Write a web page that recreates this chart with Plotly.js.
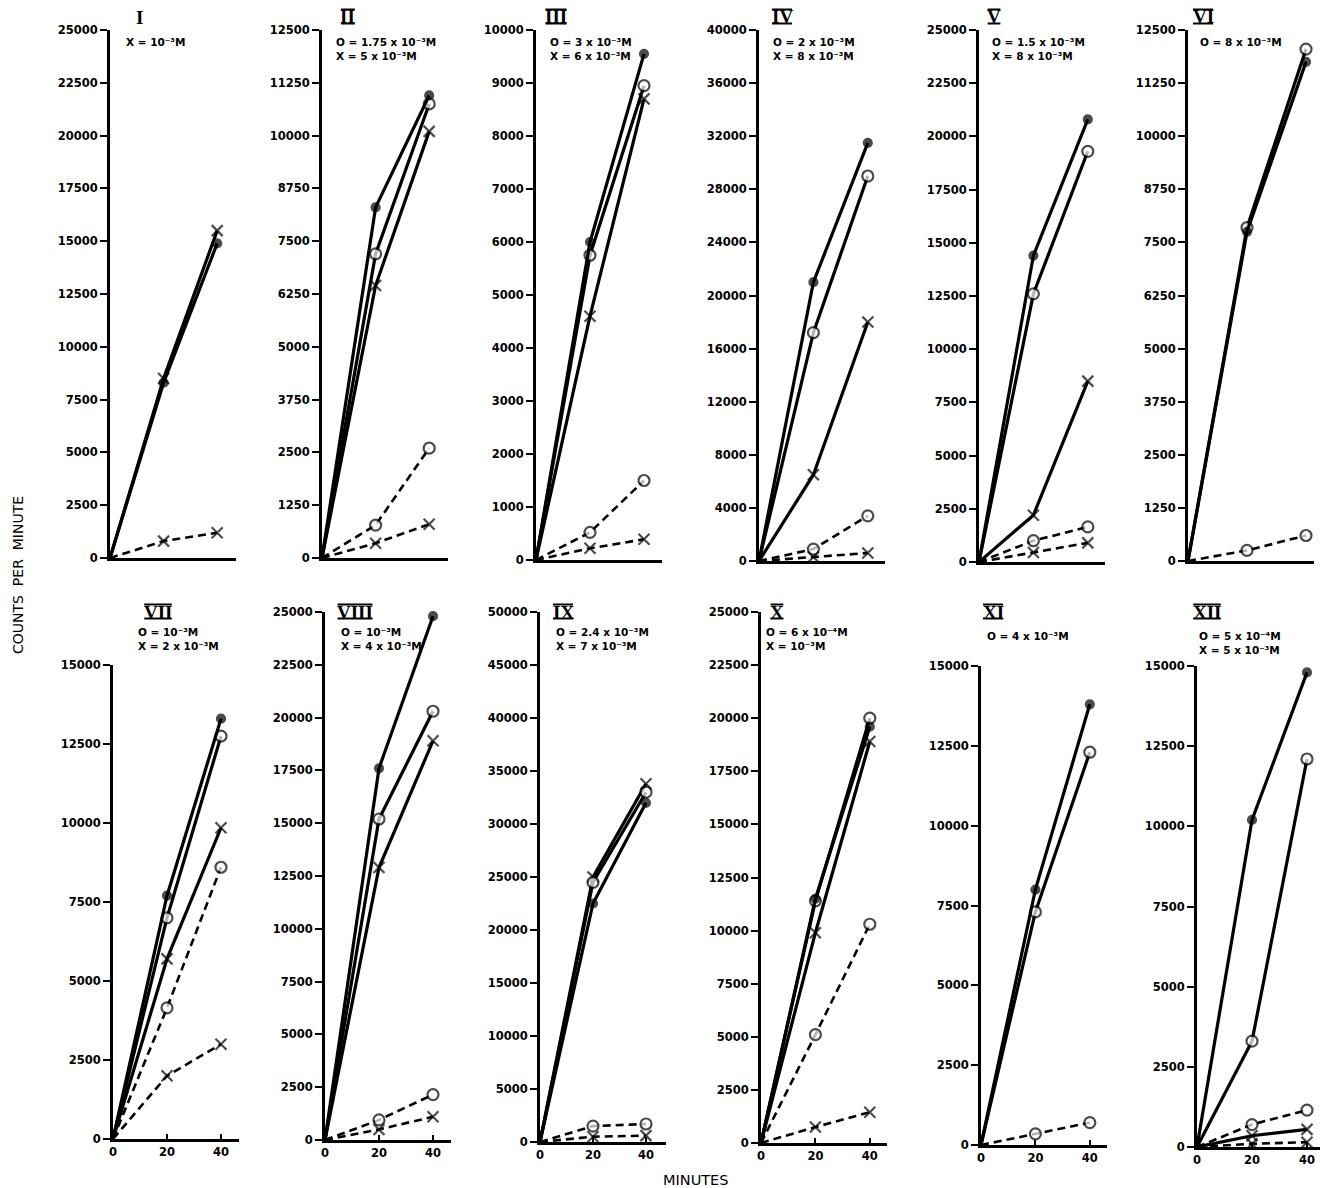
<!DOCTYPE html>
<html><head><meta charset="utf-8">
<script src="https://cdn.plot.ly/plotly-3.0.1.min.js"></script>
<style>html,body{margin:0;padding:0;background:#fff}#chart{width:1320px;height:1188px}</style>
</head><body><div id="chart"></div>
<script>
// ---------------- DATA ----------------
const minutes = [0, 20, 40];
const panelLabels = ['I','II','III','IV','V','VI','VII','VIII','IX','X','XI','XII'];
const yMax  = [25000, 12500, 10000, 40000, 25000, 12500, 15000, 25000, 50000, 25000, 15000, 15000];
const yStep = [2500, 1250, 1000, 4000, 2500, 1250, 2500, 2500, 5000, 2500, 2500, 2500];
const legendLine1 = ['X = 10⁻³M', 'O = 1.75 x 10⁻³M', 'O = 3 x 10⁻³M', 'O = 2 x 10⁻³M',
  'O = 1.5 x 10⁻³M', 'O = 8 x 10⁻³M', 'O = 10⁻³M', 'O = 10⁻³M',
  'O = 2.4 x 10⁻³M', 'O = 6 x 10⁻⁴M', 'O = 4 x 10⁻³M', 'O = 5 x 10⁻⁴M'];
const legendLine2 = ['', 'X = 5 x 10⁻³M', 'X = 6 x 10⁻³M', 'X = 8 x 10⁻³M',
  'X = 8 x 10⁻³M', '', 'X = 2 x 10⁻³M', 'X = 4 x 10⁻³M',
  'X = 7 x 10⁻³M', 'X = 10⁻³M', '', 'X = 5 x 10⁻³M'];

// series: ctrl = filled dot (solid), O / X = solid lines, Od / Xd = dashed lines
const p1_ctrl = [0, 8300, 14900];  const p1_X = [0, 8500, 15500];  const p1_Xd = [0, 800, 1200];
const p2_ctrl = [0, 8300, 10950];  const p2_O = [0, 7200, 10750];  const p2_X = [0, 6450, 10100];  const p2_Od = [0, 780, 2600];  const p2_Xd = [0, 350, 800];
const p3_ctrl = [0, 6000, 9550];   const p3_O = [0, 5750, 8950];   const p3_X = [0, 4600, 8700];   const p3_Od = [0, 520, 1500];  const p3_Xd = [0, 220, 390];
const p4_ctrl = [0, 21000, 31500]; const p4_O = [0, 17200, 29000]; const p4_X = [0, 6500, 18000];  const p4_Od = [0, 900, 3400];  const p4_Xd = [0, 300, 600];
const p5_ctrl = [0, 14400, 20800]; const p5_O = [0, 12600, 19300]; const p5_X = [0, 2200, 8500];   const p5_Od = [0, 1000, 1650]; const p5_Xd = [0, 450, 900];
const p6_ctrl = [0, 7750, 11750];  const p6_O = [0, 7850, 12050];  const p6_Od = [0, 250, 600];
const p7_ctrl = [0, 7700, 13300];  const p7_O = [0, 7000, 12750];  const p7_X = [0, 5700, 9850];   const p7_Od = [0, 4150, 8600]; const p7_Xd = [0, 2000, 3000];
const p8_ctrl = [0, 17600, 24800]; const p8_O = [0, 15200, 20300]; const p8_X = [0, 12900, 18900]; const p8_Od = [0, 950, 2150];  const p8_Xd = [0, 500, 1100];
const p9_ctrl = [0, 22500, 32000]; const p9_O = [0, 24500, 33000]; const p9_X = [0, 25000, 33800]; const p9_Od = [0, 1500, 1700]; const p9_Xd = [0, 500, 600];
const p10_ctrl = [0, 11500, 19600]; const p10_O = [0, 11400, 20000]; const p10_X = [0, 9900, 18900]; const p10_Od = [0, 5100, 10300]; const p10_Xd = [0, 750, 1450];
const p11_ctrl = [0, 8000, 13800]; const p11_O = [0, 7300, 12300]; const p11_Od = [0, 350, 700];
const p12_ctrl = [0, 10200, 14800]; const p12_O = [0, 3300, 12100]; const p12_X = [0, 350, 550]; const p12_Od = [0, 700, 1150]; const p12_Xd = [0, 100, 150];

const panels = [
  {ctrl: p1_ctrl, X: p1_X, Xd: p1_Xd},
  {ctrl: p2_ctrl, O: p2_O, X: p2_X, Od: p2_Od, Xd: p2_Xd},
  {ctrl: p3_ctrl, O: p3_O, X: p3_X, Od: p3_Od, Xd: p3_Xd},
  {ctrl: p4_ctrl, O: p4_O, X: p4_X, Od: p4_Od, Xd: p4_Xd},
  {ctrl: p5_ctrl, O: p5_O, X: p5_X, Od: p5_Od, Xd: p5_Xd},
  {ctrl: p6_ctrl, O: p6_O, Od: p6_Od},
  {ctrl: p7_ctrl, O: p7_O, X: p7_X, Od: p7_Od, Xd: p7_Xd},
  {ctrl: p8_ctrl, O: p8_O, X: p8_X, Od: p8_Od, Xd: p8_Xd},
  {ctrl: p9_ctrl, O: p9_O, X: p9_X, Od: p9_Od, Xd: p9_Xd},
  {ctrl: p10_ctrl, O: p10_O, X: p10_X, Od: p10_Od, Xd: p10_Xd},
  {ctrl: p11_ctrl, O: p11_O, Od: p11_Od},
  {ctrl: p12_ctrl, O: p12_O, X: p12_X, Od: p12_Od, Xd: p12_Xd}
];

// ---------------- LAYOUT GEOMETRY (pixels) ----------------
const W = 1320, H = 1188;
const axisLeftPx = [110, 322, 536, 759, 979, 1188, 113, 325, 540, 761, 981, 1197];
const axisTopPx  = [30, 30, 30, 30, 30, 30, 665, 612, 612, 612, 666, 666];
const axisZeroPx = [558, 558, 560, 561, 562, 561, 1139, 1140, 1142, 1143, 1145, 1147];
const pxPerMin   = [2.68, 2.68, 2.7, 2.72, 2.72, 2.95, 2.7, 2.7, 2.65, 2.72, 2.72, 2.75];
const panelWidthPx = 126;
const fx = x => x / W;
const fy = y => 1 - y / H;

const tickFont = {family: 'DejaVu Sans', size: 11.5, color: '#000', weight: 'bold'};
const traces = [];
const layout = {
  width: W, height: H, margin: {l: 0, r: 0, t: 0, b: 0},
  paper_bgcolor: '#fff', plot_bgcolor: 'rgba(0,0,0,0)',
  showlegend: false, annotations: [], shapes: []
};

const styles = {
  Xd:   {dash: '8px,5px', width: 2.6, sym: 'x-thin-open', col: '#000', msize: 11},
  Od:   {dash: '8px,5px', width: 2.6, sym: 'circle', col: '#fff', msize: 11},
  X:    {dash: 'solid', width: 3.2, sym: 'x-thin-open', col: '#000', msize: 11},
  O:    {dash: 'solid', width: 3.2, sym: 'circle', col: '#fff', msize: 11},
  ctrl: {dash: 'solid', width: 3.2, sym: 'circle', col: '#000', msize: 8}
};
const order = ['Xd', 'Od', 'X', 'O', 'ctrl'];

panels.forEach((p, i) => {
  const n = i + 1;
  const xa = n === 1 ? 'x' : 'x' + n;
  const ya = n === 1 ? 'y' : 'y' + n;
  const bottomRow = i >= 6;
  const left = axisLeftPx[i];
  const right = Math.min(left + panelWidthPx, W);
  order.forEach(k => {
    if (!p[k]) return;
    const s = styles[k];
    traces.push({
      type: 'scatter', mode: 'lines+markers', x: minutes, y: p[k],
      xaxis: xa, yaxis: ya, cliponaxis: false, hoverinfo: 'skip',
      line: {color: '#000', width: s.width, dash: s.dash},
      marker: {symbol: s.sym, color: s.col, size: minutes.map(m => m === 0 ? 0 : s.msize),
               line: {color: '#000', width: 2.2}}
    });
  });
  const xKey = n === 1 ? 'xaxis' : 'xaxis' + n;
  const yKey = n === 1 ? 'yaxis' : 'yaxis' + n;
  layout[xKey] = {
    domain: [fx(left), fx(right)], anchor: ya,
    range: [0, (right - left) / pxPerMin[i]],
    showgrid: false, zeroline: false, showline: true, linewidth: 3, linecolor: '#000',
    tickmode: 'array', tickvals: bottomRow ? [0, 20, 40] : [], ticktext: bottomRow ? ['0', '20', '40'] : [],
    ticks: bottomRow ? 'inside' : '', ticklen: 5, tickwidth: 2, tickcolor: '#000',
    showticklabels: bottomRow, tickfont: tickFont, fixedrange: true
  };
  layout[yKey] = {
    domain: [fy(axisZeroPx[i]), fy(axisTopPx[i])], anchor: xa,
    range: [0, yMax[i]], tick0: 0, dtick: yStep[i], tickformat: 'd',
    showgrid: false, zeroline: false, showline: true, linewidth: 3, linecolor: '#000',
    ticks: 'outside', ticklen: 7, tickwidth: 2, tickcolor: '#000',
    tickfont: tickFont, fixedrange: true
  };
});

// panel numerals (with over/under bars) and legends
const numeralSize = 19;
const glyphEm = {I: 0.389, V: 0.722, X: 0.722};
const numeralPos = [[139,18],[348,17],[556,17],[782,17],[994,17],[1203,17],[158,612],[355,612],[563,612],[777,612],[993,612],[1207,612]];
const legendPos  = [[124,42],[334,42],[548,42],[771,42],[990,42],[1198,42],[136,632],[339,632],[554,632],[764,632],[985,636],[1197,636]];
panelLabels.forEach((lab, i) => {
  const cx = numeralPos[i][0], cy = numeralPos[i][1];
  layout.annotations.push({
    xref: 'paper', yref: 'paper', x: fx(cx), y: fy(cy),
    xanchor: 'center', yanchor: 'middle', showarrow: false, text: lab,
    font: {family: 'Liberation Serif', size: numeralSize, color: '#000', weight: 'bold'}
  });
  if (i > 0) {
    const wEm = lab.split('').reduce((a, c) => a + glyphEm[c], 0);
    const half = wEm * numeralSize / 2 - 0.5;
    [cy - 7.5, cy + 6.5].forEach(yy => layout.shapes.push({
      type: 'line', xref: 'paper', yref: 'paper',
      x0: fx(cx - half), x1: fx(cx + half), y0: fy(yy), y1: fy(yy),
      line: {color: '#000', width: 2}
    }));
  }
  const txt = legendLine2[i] ? legendLine1[i] + '<br>' + legendLine2[i] : legendLine1[i];
  layout.annotations.push({
    xref: 'paper', yref: 'paper', x: fx(legendPos[i][0]), y: fy(legendPos[i][1] - 8),
    xanchor: 'left', yanchor: 'top', align: 'left', showarrow: false, text: txt,
    font: {family: 'DejaVu Sans', size: 10.5, color: '#000', weight: 'bold'}
  });
});

layout.annotations.push({
  xref: 'paper', yref: 'paper', x: fx(18), y: fy(575), textangle: -90,
  xanchor: 'center', yanchor: 'middle', showarrow: false, text: 'COUNTS  PER  MINUTE',
  font: {family: 'DejaVu Sans', size: 14, color: '#000'}
});
layout.annotations.push({
  xref: 'paper', yref: 'paper', x: fx(695), y: fy(1180),
  xanchor: 'center', yanchor: 'middle', showarrow: false, text: 'MINUTES',
  font: {family: 'DejaVu Sans', size: 14.5, color: '#000'}
});

Plotly.newPlot('chart', traces, layout, {staticPlot: true});
</script>
</body></html>
